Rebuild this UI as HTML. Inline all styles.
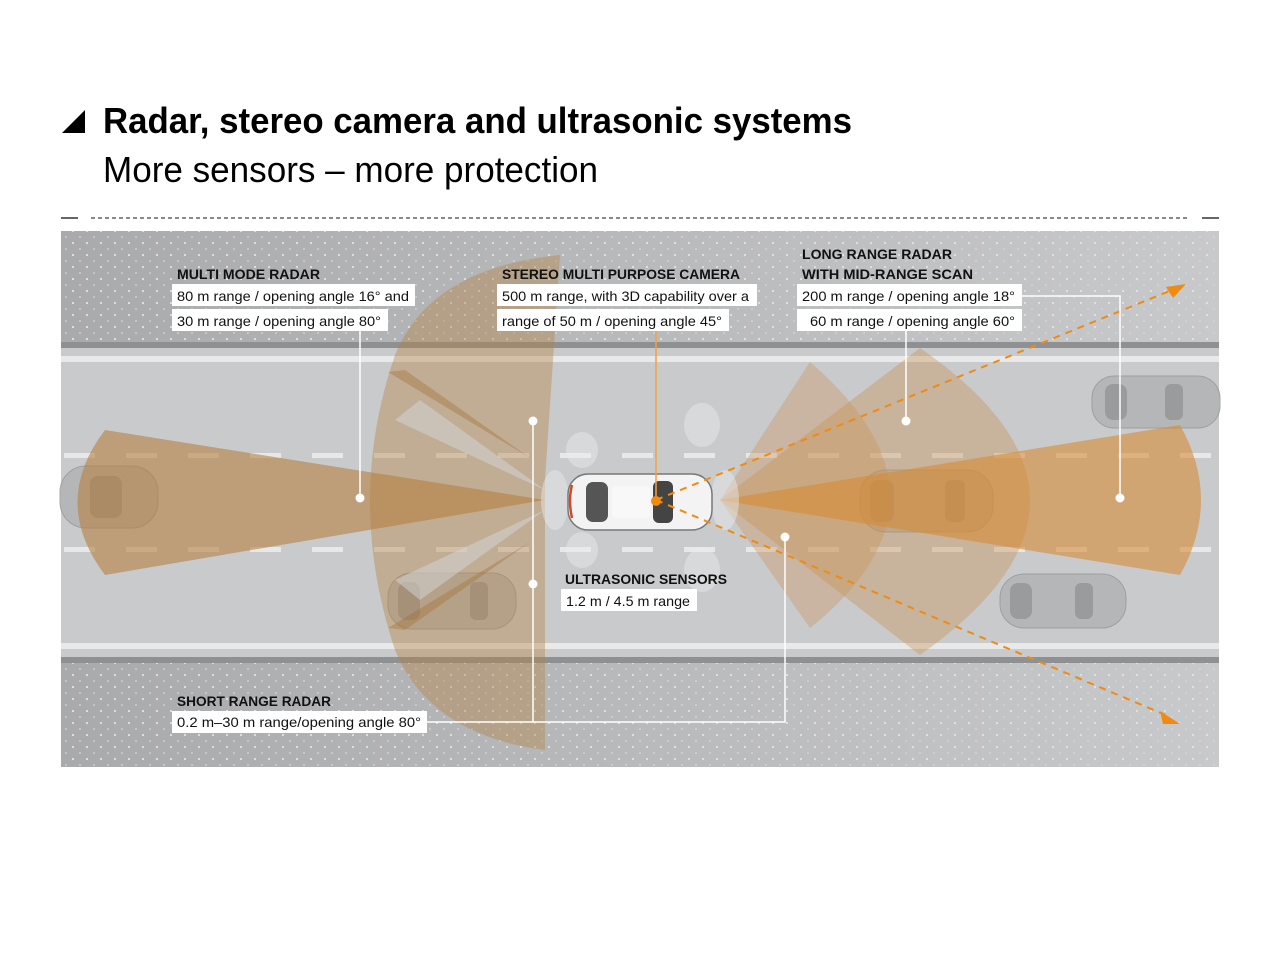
<!DOCTYPE html>
<html><head><meta charset="utf-8"><style>
html,body{margin:0;padding:0;background:#fff;width:1280px;height:967px;overflow:hidden}
svg{display:block}
</style></head><body>
<svg width="1280" height="967" viewBox="0 0 1280 967" xmlns="http://www.w3.org/2000/svg" font-family="Liberation Sans, sans-serif">
<defs>
<pattern id="dots" width="14" height="12" patternUnits="userSpaceOnUse">
<circle cx="3" cy="3" r="1.1" fill="#e2e2e3"/><circle cx="10" cy="9" r="0.9" fill="#d8d8d9"/>
</pattern>
<linearGradient id="side" x1="0" x2="1"><stop offset="0" stop-color="#a9aaac"/><stop offset="1" stop-color="#c8c9cb"/></linearGradient>
</defs>
<polygon points="62,133 85,110 85,133" fill="#000"/>
<text x="103" y="133" font-size="36" font-weight="bold" textLength="749" lengthAdjust="spacingAndGlyphs">Radar, stereo camera and ultrasonic systems</text>
<text x="103" y="182" font-size="36" textLength="495" lengthAdjust="spacingAndGlyphs">More sensors – more protection</text>
<line x1="61" y1="218" x2="78" y2="218" stroke="#333" stroke-width="1.5"/>
<line x1="91" y1="218" x2="1190" y2="218" stroke="#444" stroke-width="1.2" stroke-dasharray="4,3"/>
<line x1="1202" y1="218" x2="1219" y2="218" stroke="#333" stroke-width="1.5"/>
<rect x="61" y="231" width="1158" height="536" fill="url(#side)"/>
<rect x="61" y="231" width="1158" height="536" fill="url(#dots)"/>
<rect x="61" y="342" width="1158" height="6" fill="#8f9092"/>
<rect x="61" y="348" width="1158" height="310" fill="#c9cacc"/>
<rect x="61" y="356" width="1158" height="6" fill="#e9e9ea"/>
<rect x="61" y="643" width="1158" height="6" fill="#e9e9ea"/>
<rect x="61" y="657" width="1158" height="6" fill="#8f9092"/>
<path d="M64 455.5 H1219" stroke="#e8e8e9" stroke-width="5" stroke-dasharray="31,31"/>
<path d="M64 549.5 H1219" stroke="#e8e8e9" stroke-width="5" stroke-dasharray="31,31"/>
<g fill="#b3b4b6" stroke="#9a9b9d" stroke-width="1" opacity="0.9">
<rect x="1092" y="376" width="128" height="52" rx="22"/>
<rect x="1000" y="574" width="126" height="54" rx="24"/>
<rect x="388" y="573" width="128" height="56" rx="24"/>
<rect x="60" y="466" width="98" height="62" rx="26"/>
<rect x="860" y="470" width="133" height="62" rx="26"/>
</g>
<g fill="#8f9092" opacity="0.7">
<rect x="1105" y="384" width="22" height="36" rx="8"/><rect x="1165" y="384" width="18" height="36" rx="6"/>
<rect x="1010" y="583" width="22" height="36" rx="8"/><rect x="1075" y="583" width="18" height="36" rx="6"/>
<rect x="398" y="582" width="22" height="38" rx="8"/><rect x="470" y="582" width="18" height="38" rx="6"/>
<rect x="90" y="476" width="32" height="42" rx="8"/>
<rect x="870" y="480" width="24" height="42" rx="8"/><rect x="945" y="480" width="20" height="42" rx="6"/>
</g>
<!-- rear cones -->
<path d="M545,480 L560,255 Q430,268 395,355 Q345,500 395,650 Q430,735 545,750 L545,520 Z" fill="#b58140" opacity="0.4"/>
<path d="M530,458 L388,372 L405,370 Z" fill="#a06a28" opacity="0.35"/>
<path d="M530,542 L388,628 L405,630 Z" fill="#a06a28" opacity="0.35"/>
<path d="M545,500 L105,430 Q50,502 105,575 Z" fill="#b58140" opacity="0.6"/>
<path d="M545,490 L395,420 L420,400 Z" fill="#d6d7d9" opacity="0.5"/>
<path d="M545,510 L395,580 L420,600 Z" fill="#d6d7d9" opacity="0.5"/>
<!-- front cones -->
<path d="M720,500 L920,348 Q1140,500 920,655 Z" fill="#c99050" opacity="0.38"/>
<path d="M720,500 L810,362 Q970,500 810,628 Z" fill="#c99050" opacity="0.35"/>
<path d="M720,500 L1180,425 Q1222,500 1180,575 Z" fill="#d88a30" opacity="0.58"/>
<g fill="#eceded" opacity="0.45">
<ellipse cx="582" cy="450" rx="16" ry="18"/><ellipse cx="582" cy="550" rx="16" ry="18"/>
<ellipse cx="702" cy="425" rx="18" ry="22"/><ellipse cx="702" cy="570" rx="18" ry="22"/>
<ellipse cx="555" cy="500" rx="14" ry="30"/><ellipse cx="725" cy="500" rx="14" ry="30"/>
</g>
<rect x="568" y="474" width="144" height="56" rx="20" fill="#f3f3f3" stroke="#777" stroke-width="1.5"/>
<path d="M572,485 Q568,500 572,518" stroke="#d04a2a" stroke-width="2.5" fill="none"/>
<rect x="586" y="482" width="22" height="40" rx="7" fill="#555"/>
<rect x="653" y="481" width="20" height="42" rx="6" fill="#444"/>
<rect x="612" y="486" width="38" height="32" rx="4" fill="#f8f8f8"/>
<g stroke="#f08a10" stroke-width="2" stroke-dasharray="7,6" fill="none">
<line x1="656" y1="500" x2="1172" y2="290"/>
<line x1="656" y1="500" x2="1168" y2="716"/>
</g>
<polygon points="1186,284 1166,287 1173,298" fill="#f08a10"/>
<polygon points="1180,724 1160,711 1163,724" fill="#f08a10"/>
<line x1="656" y1="330" x2="656" y2="500" stroke="#f5a040" stroke-width="1.5"/>
<circle cx="656" cy="501" r="5" fill="#f08a10"/>
<g stroke="#fff" stroke-width="1.5" fill="none">
<line x1="360" y1="331" x2="360" y2="498"/>
<polyline points="533,421 533,722 427,722"/>
<polyline points="785,537 785,722 533,722"/>
<line x1="906" y1="331" x2="906" y2="421"/>
<polyline points="1022,296 1120,296 1120,498"/>
</g>
<g fill="#fff">
<circle cx="360" cy="498" r="4.5"/><circle cx="533" cy="421" r="4.5"/><circle cx="533" cy="584" r="4.5"/>
<circle cx="785" cy="537" r="4.5"/><circle cx="906" cy="421" r="4.5"/><circle cx="1120" cy="498" r="4.5"/>
</g>
<g fill="#fff">
<rect x="172" y="284" width="243" height="22"/><rect x="172" y="309" width="216" height="22"/>
<rect x="497" y="284" width="260" height="22"/><rect x="497" y="309" width="232" height="22"/>
<rect x="797" y="284" width="225" height="22"/><rect x="797" y="309" width="225" height="22"/>
<rect x="561" y="589" width="136" height="22"/>
<rect x="172" y="711" width="255" height="22"/>
</g>
<g font-size="14" fill="#111">
<text x="177" y="279" font-weight="bold" textLength="143" lengthAdjust="spacingAndGlyphs">MULTI MODE RADAR</text>
<text x="177" y="301" textLength="232" lengthAdjust="spacingAndGlyphs">80 m range / opening angle 16° and</text>
<text x="177" y="326" textLength="204" lengthAdjust="spacingAndGlyphs">30 m range / opening angle 80°</text>
<text x="502" y="279" font-weight="bold" textLength="238" lengthAdjust="spacingAndGlyphs">STEREO MULTI PURPOSE CAMERA</text>
<text x="502" y="301" textLength="247" lengthAdjust="spacingAndGlyphs">500 m range, with 3D capability over a</text>
<text x="502" y="326" textLength="220" lengthAdjust="spacingAndGlyphs">range of 50 m / opening angle 45°</text>
<text x="802" y="259" font-weight="bold" textLength="150" lengthAdjust="spacingAndGlyphs">LONG RANGE RADAR</text>
<text x="802" y="279" font-weight="bold" textLength="171" lengthAdjust="spacingAndGlyphs">WITH MID-RANGE SCAN</text>
<text x="802" y="301" textLength="213" lengthAdjust="spacingAndGlyphs">200 m range / opening angle 18°</text>
<text x="810" y="326" textLength="205" lengthAdjust="spacingAndGlyphs">60 m range / opening angle 60°</text>
<text x="565" y="584" font-weight="bold" textLength="162" lengthAdjust="spacingAndGlyphs">ULTRASONIC SENSORS</text>
<text x="566" y="606" textLength="124" lengthAdjust="spacingAndGlyphs">1.2 m / 4.5 m range</text>
<text x="177" y="706" font-weight="bold" textLength="154" lengthAdjust="spacingAndGlyphs">SHORT RANGE RADAR</text>
<text x="177" y="727" textLength="244" lengthAdjust="spacingAndGlyphs">0.2 m–30 m range/opening angle 80°</text>
</g>
</svg>
</body></html>
